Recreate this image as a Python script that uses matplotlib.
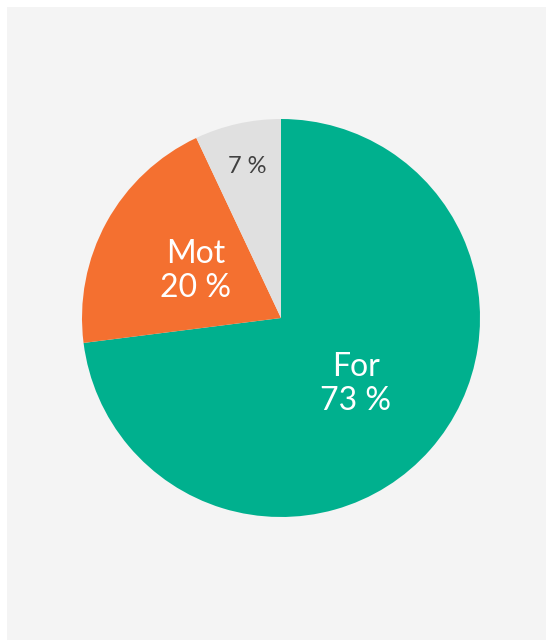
import matplotlib.pyplot as plt
import numpy as np
from matplotlib.patches import Rectangle

labels = ['For', 'Mot', '']
shares = [73, 20, 7]
colors = ['#00B08E', '#F47030', '#E0E0E0']
text_colors = ['white', 'white', '#404040']

plt.rcParams['font.family'] = ['Lato', 'DejaVu Sans']

fig = plt.figure(figsize=(5.46, 6.4), dpi=100)
fig.patch.set_facecolor('white')
fig.patches.append(Rectangle((7 / 546, 0), 1, 633 / 640, transform=fig.transFigure,
                             facecolor='#F4F4F4', edgecolor='none', zorder=-5))

# pie centre ~ (281, 318) px, radius ~199 px
r_px = 199
ax = fig.add_axes([(281 - r_px) / 546, (640 - 318 - r_px) / 640, 2 * r_px / 546, 2 * r_px / 640])
ax.set_zorder(2)
ax.set_facecolor('none')
wedges, _ = ax.pie(shares, colors=colors, startangle=90, counterclock=False,
                   wedgeprops=dict(linewidth=0))
ax.set_aspect('equal')
ax.set_xlim(-1, 1)
ax.set_ylim(-1, 1)

dists = [0.5, 0.49, 0.78]
sizes = [23, 23, 17]
for w, lab, pct, d, c, fs in zip(wedges, labels, shares, dists, text_colors, sizes):
    mid = np.deg2rad((w.theta1 + w.theta2) / 2)
    txt = f'{lab}\n{pct} %' if lab else f'{pct} %'
    ax.text(d * np.cos(mid), d * np.sin(mid), txt, ha='center', va='center',
            color=c, fontsize=fs, fontweight='normal', linespacing=1.15)

fig.savefig('out.png', dpi=100)
